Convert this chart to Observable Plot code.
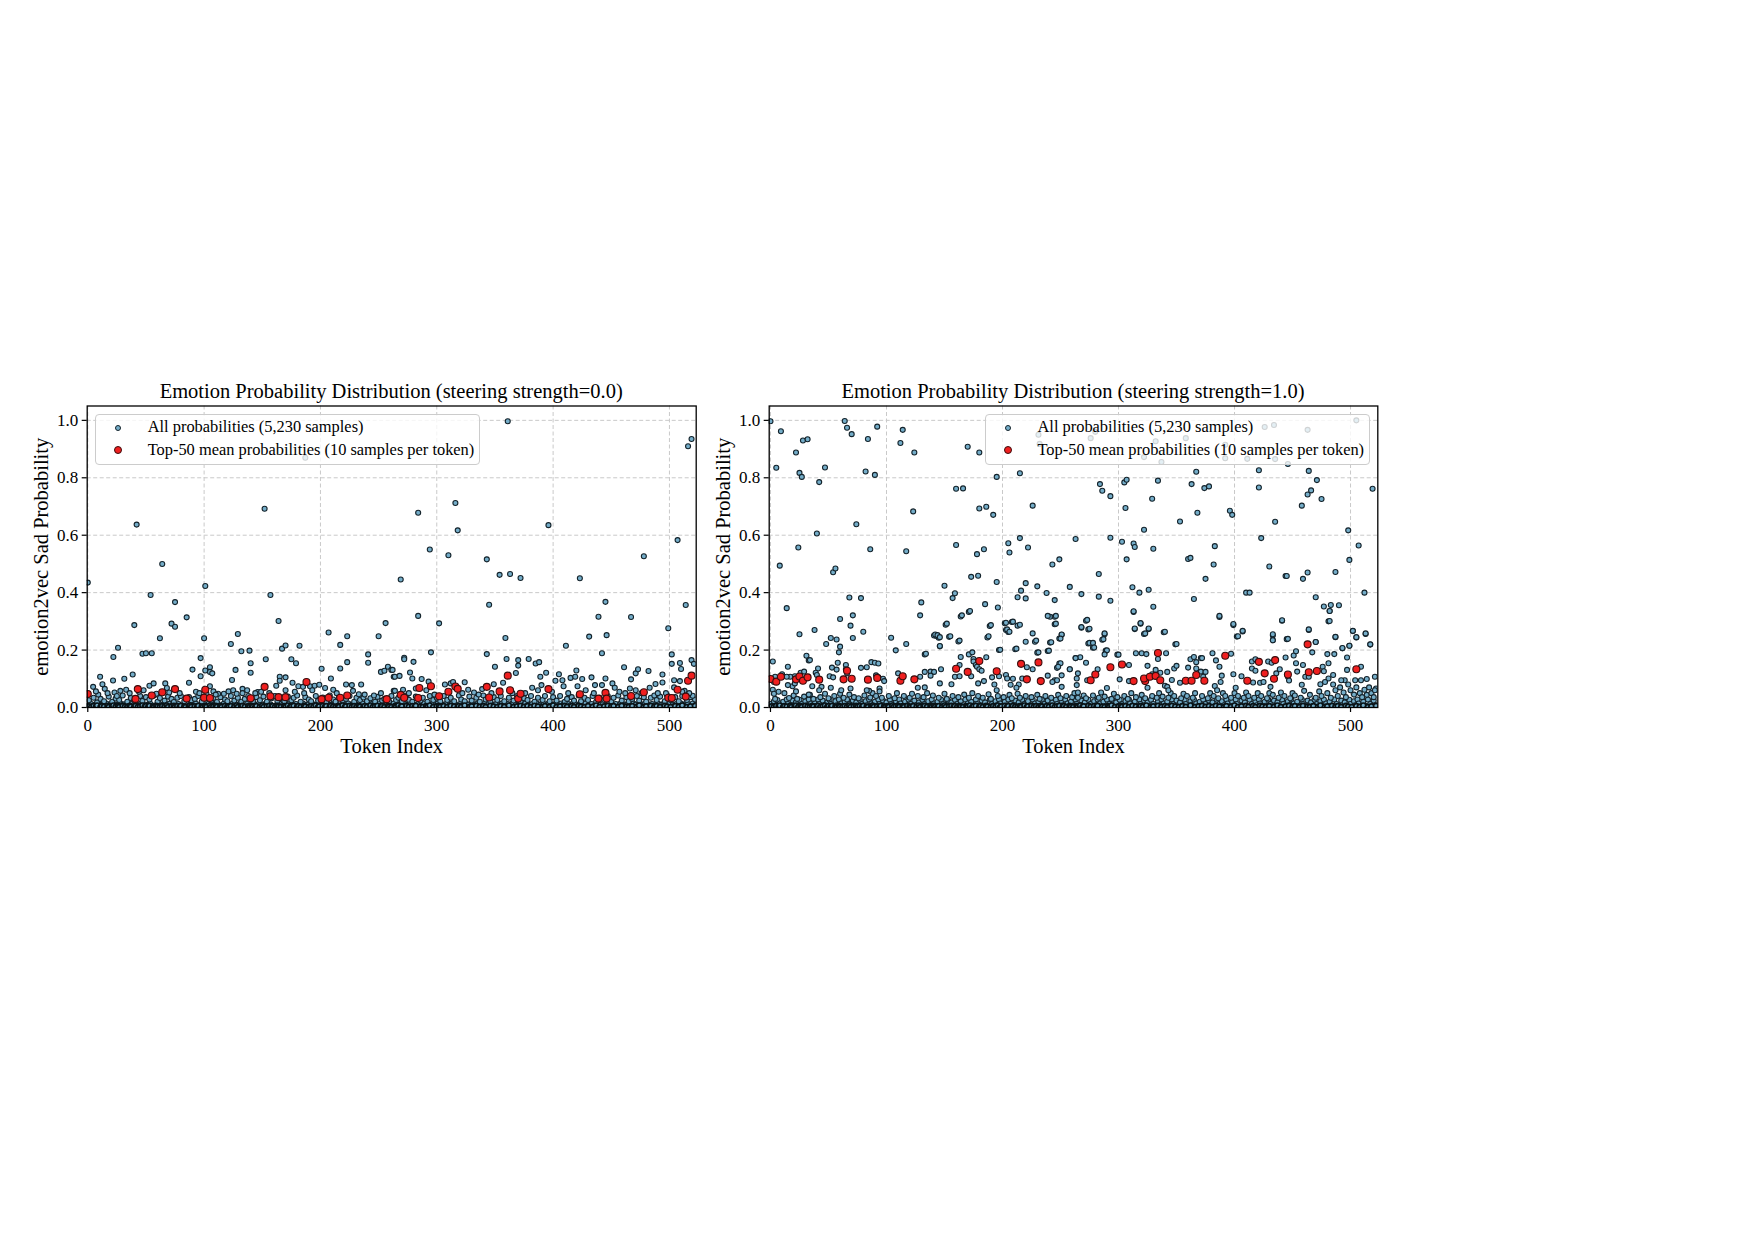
<!DOCTYPE html>
<html><head><meta charset="utf-8">
<script src="https://cdn.jsdelivr.net/npm/d3@7"></script>
<script src="https://cdn.jsdelivr.net/npm/@observablehq/plot@0.6"></script>
<style>
html,body{margin:0;padding:0;background:#fff;width:1755px;height:1240px;overflow:hidden;font-family:"Liberation Serif",serif;color:#000}
.p{position:absolute}
.t{position:absolute;font-size:20.5px;text-align:center;white-space:nowrap;line-height:24px}
.lg{position:absolute;background:rgba(255,255,255,.8);border:1.5px solid #ccc;border-radius:4px;box-sizing:border-box}
.lg div{position:absolute;white-space:nowrap;font-size:16.4px;line-height:20px}
.lg svg{position:absolute;overflow:visible}
</style></head><body>
<script>
const title0="Emotion Probability Distribution (steering strength=0.0)";
const title1="Emotion Probability Distribution (steering strength=1.0)";
const legendAll="All probabilities (5,230 samples)";
const legendTop="Top-50 mean probabilities (10 samples per token)";
const xLabel="Token Index", yLabel="emotion2vec Sad Probability";
const xTicks=[0,100,200,300,400,500], yTicks=[0,.2,.4,.6,.8,1];

// panel 0: flat token,probability lists
const topLeft=[0,.047,41,.03,43,.064,55,.042,64,.053,75,.064,85,.031,101,.062,100,.034,105,.033,140,.032,152,.072,157,.039,164,.036,170,.036,188,.089,201,.029,207,.034,217,.034,223,.042,257,.029,269,.044,272,.034,284,.033,285,.068,295,.074,302,.039,310,.055,316,.073,318,.065,343,.072,345,.035,354,.056,361,.111,363,.06,370,.031,372,.048,396,.064,423,.046,439,.031,445,.051,446,.031,467,.04,478,.053,499,.034,502,.033,507,.062,514,.038,516,.093,519,.111];
const upperLeft=[0,.435,42,.637,152,.692,284,.678,316,.712,318,.617,396,.635,361,.997,187,.87,519,.935,516,.91,507,.583,478,.527,294,.55,310,.53,343,.516,354,.462,363,.465,372,.451,423,.45,269,.446,345,.358,445,.368,514,.357,64,.5,54,.392,75,.367,101,.423,157,.392,40,.287,62,.241,72,.292,75,.281,85,.314,22,.176,26,.208,47,.187,50,.189,55,.189,100,.241,97,.172,90,.132,97,.109,87,.086,101,.129,105,.14,105,.124,107,.119,4.6,.072,10.6,.107,12.6,.081,14.6,.065,21.7,.094,31.4,.1,38.6,.115,53,.076,56.6,.084,66.6,.084,68,.068,123,.221,129,.256,132,.196,139,.198,140,.154,140,.121,153,.168,127,.131,124,.096,164,.301,167,.205,170,.216,182,.215,175,.168,179,.154,165,.107,165,.093,170,.105,176,.086,181,.074,185,.072,191,.074,195,.076,199,.079,201,.135,207,.261,223,.248,217,.218,209,.101,217,.136,223,.158,222,.08,227,.078,228,.058,235,.08,250,.248,256,.294,241,.185,241,.156,252,.124,255,.128,258,.142,261,.131,263,.107,263,.058,112,.048,117,.048,121,.056,125,.06,133,.065,133,.05,146,.054,149,.055,162,.076,170,.06,193,.06,204,.068,211,.062,233,.046,246,.042,108,.056,105,.074,102,.048,284,.319,302,.293,272,.173,272,.168,280,.159,295,.192,262,.131,264,.107,268,.11,277,.122,279,.101,287,.099,293,.09,282,.066,291,.06,264,.058,271,.062,307,.08,312,.084,314,.089,324,.088,327,.062,332,.052,339,.064,349,.081,357,.086,359,.242,343,.186,350,.142,360,.169,370,.165,370,.146,379,.169,385,.153,388,.158,368,.12,394,.121,389,.107,390,.078,382,.069,387,.06,411,.215,431,.247,439,.316,446,.252,467,.315,442,.189,499,.276,405,.116,402,.093,408,.095,415,.103,419,.107,420,.129,425,.099,433,.105,421,.074,409,.074,436,.078,442,.078,445,.101,451,.084,453,.069,461,.14,467,.098,471,.119,473,.133,482,.127,471,.06,466,.066,483,.069,488,.082,494,.115,494,.087,502,.185,502,.152,509,.155,510,.134,504,.095,509,.092,519,.165,521,.152,520,.041,504,.07,513,.058,23,.052,28,.058,33,.062,36,.05,9,.045,17,.05,7,.056,25,.04,44,.055,48,.06,59,.048,70,.052,79,.05,93,.055,96,.05,110,.045,128,.048,137,.06,144,.05,156,.05,178,.055,186,.05,214,.05,238,.045,252,.05,276,.05,298,.045,322,.05,336,.045,347,.05,365,.05,376,.05,399,.055,413,.05,428,.06,435,.05,457,.055,462,.05,476,.05,490,.05,497,.05,511,.055,517,.05];
const bandMidLeft=[1,.025,5,.034,8,.018,11,.03,14,.022,18,.038,21,.02,24,.031,27,.026,30,.042,34,.02,37,.033,40,.024,45,.04,47,.023,50,.036,53,.028,57,.042,60,.02,62,.033,66,.024,69,.038,72,.03,74,.019,77,.034,80,.04,83,.022,87,.036,89,.025,92,.03,95,.04,98,.021,102,.035,106,.024,108,.033,111,.019,114,.036,118,.028,120,.022,123,.04,126,.024,129,.034,132,.02,135,.03,138,.04,142,.022,145,.036,148,.025,151,.038,154,.02,158,.032,161,.04,163,.023,166,.032,169,.022,172,.038,175,.025,177,.034,180,.042,183,.02,187,.036,190,.028,192,.022,196,.04,198,.024,202,.035,205,.02,208,.042,211,.028,213,.02,216,.037,219,.024,222,.03,225,.04,229,.02,231,.034,234,.026,237,.035,240,.022,243,.032,247,.02,249,.037,253,.024,255,.03,259,.022,261,.04,265,.026,267,.034,270,.022,274,.042,276,.027,279,.02,282,.038,286,.024,288,.034,292,.02,294,.04,297,.026,300,.034,303,.022,306,.04,309,.026,312,.034,315,.022,319,.042,321,.028,324,.022,328,.038,330,.024,334,.034,337,.02,340,.042,342,.028,346,.022,349,.036,352,.026,355,.04,358,.022,362,.034,366,.024,369,.04,372,.022,375,.032,378,.026,381,.04,384,.02,387,.034,391,.026,393,.04,397,.022,400,.036,403,.024,406,.04,410,.02,412,.03,416,.036,418,.024,422,.042,424,.022,427,.034,430,.026,434,.04,437,.02,440,.034,444,.026,447,.04,450,.022,452,.034,456,.042,459,.024,463,.036,465,.022,468,.03,472,.04,474,.024,478,.036,480,.02,484,.034,487,.042,489,.026,492,.038,496,.022,498,.042,501,.026,505,.036,508,.022,511,.04,515,.026,518,.036,522,.028];
const bandLowLeft=[0,.006,3,.012,4,.002,6,.008,9,.014,10,.003,13,.01,15,.001,16,.014,19,.006,20,.012,23,.002,25,.009,28,.014,29,.004,31,.011,33,.001,35,.008,38,.013,39,.003,42,.01,44,.005,46,.014,48,.002,51,.009,54,.012,55,.003,58,.007,61,.014,63,.002,65,.01,67,.005,70,.013,71,.001,73,.009,76,.004,78,.012,81,.002,82,.008,85,.014,86,.003,90,.01,91,.005,93,.013,96,.002,97,.008,100,.012,103,.004,104,.014,107,.002,109,.009,112,.012,113,.004,116,.007,117,.014,119,.002,122,.009,124,.012,125,.004,127,.002,130,.01,131,.014,134,.003,136,.008,137,.012,140,.001,143,.01,146,.005,147,.013,149,.002,152,.009,153,.014,155,.004,157,.011,160,.002,162,.008,165,.013,167,.003,168,.01,171,.005,173,.014,176,.002,178,.009,179,.012,182,.004,184,.008,185,.014,188,.002,189,.01,191,.005,193,.013,195,.002,197,.009,200,.012,201,.003,203,.008,206,.014,207,.002,210,.01,212,.005,214,.013,217,.002,218,.008,220,.012,223,.004,224,.014,226,.002,228,.009,230,.012,232,.003,235,.007,236,.014,239,.002,241,.01,242,.005,244,.012,246,.002,248,.008,250,.014,251,.003,254,.01,256,.005,257,.012,260,.002,262,.008,263,.014,266,.002,268,.01,271,.005,272,.013,273,.002,275,.009,277,.014,278,.003,280,.01,283,.005,284,.012,285,.002,287,.008,289,.014,290,.003,293,.01,295,.005,296,.012,298,.002,299,.008,301,.014,304,.002,305,.01,307,.005,308,.012,310,.002,311,.008,313,.014,314,.003,316,.01,317,.005,320,.012,322,.002,323,.008,325,.014,326,.002,327,.01,329,.005,331,.012,332,.002,333,.008,335,.014,336,.003,338,.01,339,.005,341,.012,343,.002,344,.008,345,.014,347,.002,348,.01,350,.005,351,.012,353,.002,354,.008,356,.014,357,.003,359,.01,360,.005,361,.012,363,.002,364,.008,365,.014,367,.002,368,.01,370,.005,371,.012,373,.002,374,.008,376,.014,377,.003,379,.01,380,.005,382,.012,383,.002,385,.008,386,.014,388,.002,389,.01,390,.005,392,.012,394,.002,395,.008,396,.014,398,.003,399,.01,401,.005,402,.012,404,.002,405,.008,407,.014,408,.002,409,.01,411,.005,413,.012,414,.002,415,.008,417,.014,419,.003,420,.01,421,.005,423,.012,425,.002,426,.008,428,.014,429,.002,431,.01,432,.005,433,.012,435,.002,436,.008,438,.014,439,.003,441,.01,442,.005,443,.012,445,.002,446,.008,448,.014,449,.002,451,.01,453,.005,454,.012,455,.002,457,.008,458,.014,460,.003,461,.01,462,.005,464,.012,466,.002,467,.008,469,.014,470,.002,471,.01,473,.005,475,.012,476,.002,477,.008,479,.014,481,.003,482,.01,483,.005,485,.012,486,.002,488,.008,490,.014,491,.002,493,.01,494,.005,495,.012,497,.002,499,.008,500,.014,502,.003,503,.01,504,.005,506,.012,507,.002,509,.008,510,.014,512,.002,513,.01,514,.005,516,.012,517,.002,519,.008,520,.014,521,.003,523,.01];
// the near-zero floor that reads as a solid dark row in both panels
const floorBand=[1,.004,3,.001,5,.006,7,.002,8,.007,11,.001,12,.005,14,.003,17,.006,18,.001,21,.004,22,.007,24,.002,26,.005,27,.001,30,.006,32,.003,34,.001,36,.006,37,.003,40,.002,41,.006,43,.001,45,.004,47,.007,49,.002,50,.005,52,.001,53,.006,56,.003,57,.001,59,.006,60,.003,62,.001,64,.005,66,.002,68,.007,69,.001,72,.004,74,.006,75,.002,77,.005,79,.001,80,.006,83,.003,84,.001,87,.005,88,.007,89,.002,92,.004,94,.001,95,.006,98,.003,99,.001,101,.005,102,.002,105,.007,106,.001,108,.004,110,.006,111,.002,114,.005,115,.001,118,.006,120,.003,121,.001,123,.005,126,.002,128,.007,129,.001,132,.004,133,.006,135,.002,138,.005,139,.001,141,.006,142,.003,144,.001,145,.005,148,.002,150,.007,151,.001,154,.004,156,.006,158,.002,159,.005,161,.001,163,.006,164,.003,166,.001,169,.005,170,.002,172,.007,174,.001,175,.004,177,.006,180,.002,181,.005,183,.001,186,.006,187,.003,190,.001,192,.005,194,.002,196,.007,198,.001,199,.004,202,.006,204,.002,205,.005,208,.001,209,.006,211,.003,213,.001,215,.005,216,.002,219,.007,221,.001,222,.004,225,.006,227,.002,229,.005,231,.001,233,.006,234,.003,237,.001,238,.005,240,.002,243,.007,245,.001,247,.004,249,.006,252,.002,253,.005,255,.001,258,.006,259,.003,261,.001,264,.005,265,.002,267,.007,269,.001,270,.004,274,.006,276,.002,279,.005,281,.001,282,.006,286,.003,288,.001,291,.005,292,.002,294,.007,297,.001,300,.004,302,.006,303,.002,306,.005,309,.001,312,.006,315,.003,318,.001,319,.005,321,.002,324,.007,328,.001,330,.004,334,.006,337,.002,340,.005,342,.001,346,.006,349,.003,352,.001,355,.005,358,.002,362,.007,366,.001,369,.004,372,.006,375,.002,378,.005,381,.001,384,.006,387,.003,391,.001,393,.005,397,.002,400,.007,403,.001,406,.004,410,.006,412,.002,416,.005,418,.001,422,.006,424,.003,427,.001,430,.005,434,.002,437,.007,440,.001,444,.004,447,.006,450,.002,452,.005,456,.001,459,.006,463,.003,465,.001,468,.005,472,.002,474,.007,478,.001,480,.004,484,.006,487,.002,489,.005,492,.001,496,.006,498,.003,501,.001,505,.005,508,.002,511,.007,515,.001,518,.004,522,.006];

// panel 1
const topRight=[0,.099,5,.09,9,.107,22,.098,25,.108,28,.093,32,.105,42,.097,63,.098,66,.128,70,.1,84,.097,92,.103,112,.093,114,.109,124,.098,160,.135,170,.124,180,.162,195,.126,216,.152,221,.098,231,.157,233,.092,276,.095,280,.115,293,.14,303,.15,313,.092,323,.092,322,.101,327,.107,332,.11,336,.095,334,.19,358,.093,363,.093,367,.113,374,.093,392,.18,411,.093,421,.159,426,.119,434,.1,435,.165,446,.115,463,.22,464,.123,471,.127,505,.133];
const upperRight=[0,.997,9,.962,5,.835,8,.494,14,.346,22,.888,24,.557,25,.817,27,.803,28,.93,32,.934,42,.785,47,.836,40,.606,54,.471,56,.484,38,.27,25,.255,48,.221,52,.242,57,.237,60,.308,60,.212,59,.192,64,.998,66,.974,70,.952,74,.638,68,.383,78,.381,69,.285,71,.321,71,.242,80,.264,82,.822,84,.935,86,.551,90,.81,92,.978,104,.243,108,.199,117,.221,112,.921,114,.967,117,.544,124,.888,123,.683,130,.366,129,.321,133,.185,141,.251,143,.249,145,.243,146,.213,150,.424,151,.288,154,.246,157,.381,159,.398,162,.23,164,.317,160,.762,166,.763,160,.566,170,.908,171,.333,180,.888,178,.534,184,.551,173,.455,179,.459,180,.693,186,.699,192,.671,185,.36,189,.284,187,.244,195,.803,195,.437,196,.348,197,.2,205,.572,206,.54,202,.293,208,.298,203,.27,205,.263,213,.384,215,.59,215,.816,213,.285,211,.203,222,.557,226,.703,243,.498,249,.516,216,.407,220,.433,220,.38,230,.422,238,.399,245,.374,258,.42,268,.395,263,.587,241,.316,245,.316,245,.29,241,.226,228,.229,230,.191,239,.197,226,.258,247,.138,249,.153,251,.253,249,.24,272,.302,268,.278,274,.272,274,.223,277,.222,278,.208,283,.465,284,.778,286,.755,293,.736,293,.591,283,.386,293,.372,288,.255,286,.236,289,.198,299,.184,303,.577,305,.784,307,.793,306,.695,313,.571,314,.559,307,.516,312,.419,318,.4,326,.41,322,.619,329,.727,334,.79,330,.553,330,.351,313,.333,319,.292,326,.273,314,.273,322,.256,339,.262,349,.22,353,.648,360,.517,362,.521,363,.778,367,.821,368,.678,374,.764,378,.77,365,.378,375,.448,382,.498,383,.562,387,.315,396,.685,398,.671,399,.287,402,.247,407,.265,410,.4,413,.4,421,.826,421,.766,423,.59,430,.491,435,.647,444,.458,445,.458,459,.448,463,.47,441,.302,433,.251,433,.234,445,.238,464,.824,471,.792,466,.756,463,.742,458,.703,475,.726,470,.384,477,.352,483,.357,490,.356,482,.336,481,.3,487,.472,487,.245,464,.27,470,.228,493,.206,499,.215,502,.266,505,.244,498,.617,499,.514,507,.564,512,.4,513,.256,517,.219,519,.762,231,.95,280,.96,276,.938,322,.872,337,.855,332,.927,358,.938,392,.915,392,.868,411,.866,426,.977,434,.984,435,.865,446,.848,463,.967,505,1,232,.918,2,.16,2,.062,3,.048,15,.142,31,.18,33,.164,34,.165,58,.156,65,.148,53,.139,57,.132,41,.136,39,.121,40,.113,51,.109,54,.105,65,.133,66,.119,78,.138,83,.14,87,.158,90,.156,93,.153,91,.112,93,.105,97,.1,98,.092,94,.066,94,.056,85,.058,83,.06,69,.066,61,.06,52,.069,44,.072,42,.06,36,.074,33,.045,28,.095,26,.121,29,.125,26,.105,21,.109,17,.107,14,.107,10,.116,4,.107,19,.074,21,.084,15,.078,22,.056,3,.089,134,.187,142,.254,144,.252,146,.245,146,.214,152,.292,155,.248,163,.233,165,.321,172,.336,164,.176,171,.185,174,.192,175,.169,175,.16,177,.148,178,.142,180,.133,182,.128,186,.175,188,.248,190,.287,198,.201,203,.295,209,.299,215,.288,204,.272,206,.264,212,.205,220,.229,229,.233,231,.192,239,.319,246,.319,246,.292,242,.227,240,.198,251,.254,250,.24,250,.154,248,.142,263,.172,110,.119,133,.124,138,.125,141,.124,147,.133,138,.111,129,.107,127,.069,133,.07,146,.084,156,.081,159,.107,163,.109,163,.148,173,.109,184,.092,179,.084,191,.105,193,.08,197,.109,195,.06,203,.113,204,.101,209,.1,207,.079,217,.101,214,.08,212,.069,226,.133,221,.14,239,.111,245,.095,247,.095,251,.112,251,.072,243,.089,258,.133,264,.101,273,.305,268,.28,275,.274,288,.258,287,.238,275,.225,278,.225,279,.209,290,.199,288,.185,267,.175,263,.172,272,.156,258,.133,265,.119,282,.133,264,.078,265,.052,273,.095,290,.068,300,.184,301,.098,313,.335,314,.275,319,.294,326,.275,323,.258,340,.264,350,.221,315,.189,320,.189,324,.186,334,.169,341,.189,325,.145,332,.131,336,.121,342,.124,329,.116,346,.096,309,.148,309,.092,325,.069,340,.076,342,.072,343,.06,353,.086,360,.139,348,.136,350,.145,362,.168,365,.176,371,.172,372,.172,367,.158,367,.136,371,.125,375,.124,373,.107,381,.189,384,.164,387,.142,389,.111,388,.089,383,.075,385,.06,387,.319,399,.291,403,.248,407,.267,397,.187,399,.116,401,.069,406,.109,416,.087,415,.16,418,.168,415,.136,418,.128,422,.086,425,.089,431,.072,429,.16,432,.156,436,.119,439,.133,433,.255,433,.234,446,.239,441,.304,444,.174,446,.107,447,.094,451,.181,453,.196,453,.154,459,.148,454,.125,458,.079,461,.107,464,.107,464,.272,470,.228,467,.192,476,.142,486,.186,480,.186,481,.154,477,.126,474,.081,485,.113,481,.101,478,.089,482,.301,482,.336,487,.246,493,.207,499,.215,502,.267,505,.245,513,.258,517,.22,497,.174,497,.131,509,.142,495,.095,492,.095,504,.095,509,.095,514,.099,521,.107,521,.06];
const bandMidRight=[4,.03,7,.055,12,.05,16,.033,20,.042,23,.03,29,.038,34,.044,37,.03,43,.036,47,.048,50,.032,55,.04,60,.048,63,.034,68,.045,72,.036,76,.032,81,.042,86,.035,88,.05,91,.04,96,.034,102,.04,107,.032,109,.05,115,.04,120,.034,122,.048,127,.04,132,.036,135,.05,140,.042,145,.034,150,.048,152,.03,157,.04,162,.036,167,.045,171,.034,174,.05,179,.04,183,.034,188,.046,190,.03,196,.04,201,.036,206,.044,208,.032,213,.048,215,.034,220,.04,225,.036,230,.044,232,.03,237,.04,242,.034,248,.044,250,.032,255,.04,260,.036,262,.05,265,.034,270,.042,272,.032,278,.042,283,.034,285,.052,288,.038,294,.03,296,.048,299,.036,305,.04,308,.03,311,.05,315,.036,320,.044,323,.032,329,.04,333,.034,335,.05,338,.038,343,.034,345,.05,348,.04,354,.032,356,.048,359,.04,364,.034,366,.05,372,.04,377,.032,379,.05,382,.04,386,.032,390,.05,392,.04,397,.034,400,.05,403,.04,408,.034,410,.052,412,.04,417,.034,420,.05,423,.04,428,.032,430,.05,433,.044,438,.034,440,.052,443,.04,448,.032,450,.05,452,.042,457,.034,460,.058,465,.044,470,.034,473,.056,475,.04,480,.05,483,.034,485,.08,487,.06,489,.04,491,.07,494,.052,496,.036,498,.08,500,.06,503,.045,505,.07,508,.05,510,.036,512,.062,514,.044,516,.07,518,.05,520,.036,522,.066];
const bandLowRight=[0,.012,2,.004,3,.022,5,.008,6,.026,8,.014,9,.002,11,.02,13,.006,14,.028,15,.012,17,.002,19,.024,20,.008,22,.018,24,.004,25,.027,27,.012,28,.002,30,.022,32,.008,33,.028,35,.014,36,.003,38,.02,40,.006,41,.028,42,.012,44,.002,45,.024,47,.008,49,.018,50,.004,51,.027,52,.012,54,.002,56,.022,57,.008,59,.028,61,.014,62,.003,64,.02,65,.006,66,.028,68,.012,70,.002,71,.024,73,.008,74,.018,75,.004,77,.027,79,.012,80,.002,82,.022,83,.008,85,.028,87,.014,89,.003,90,.02,92,.006,93,.028,94,.012,96,.002,97,.024,98,.008,100,.018,101,.004,103,.027,104,.012,106,.002,108,.022,110,.008,111,.028,112,.014,114,.003,116,.02,117,.006,119,.028,121,.012,123,.002,124,.024,126,.008,128,.018,129,.004,131,.027,133,.012,134,.002,136,.022,138,.008,139,.028,141,.014,142,.003,144,.02,146,.006,147,.028,149,.012,151,.002,153,.024,154,.008,156,.018,158,.004,159,.027,161,.012,163,.002,164,.022,166,.008,168,.028,170,.014,172,.003,173,.02,175,.006,177,.028,178,.012,180,.002,182,.024,184,.008,185,.018,187,.004,189,.027,191,.012,192,.002,194,.022,195,.008,197,.028,198,.014,200,.003,202,.02,203,.006,205,.028,207,.012,209,.002,211,.024,212,.008,214,.018,216,.004,217,.027,219,.012,221,.002,222,.022,224,.008,226,.028,228,.014,229,.003,231,.02,233,.006,234,.028,236,.012,238,.002,239,.024,241,.008,243,.018,244,.004,246,.027,247,.012,249,.002,251,.022,252,.008,254,.028,256,.014,258,.003,259,.02,261,.006,263,.028,264,.012,266,.002,268,.024,269,.008,271,.018,273,.004,274,.027,276,.012,277,.002,279,.022,281,.008,282,.028,284,.014,286,.003,287,.02,289,.006,290,.028,292,.012,293,.002,295,.024,297,.008,298,.018,300,.004,301,.027,303,.012,304,.002,306,.022,307,.008,309,.028,310,.014,312,.003,314,.02,316,.006,318,.028,319,.012,321,.002,322,.024,324,.008,325,.018,327,.004,328,.027,330,.012,332,.002,334,.022,336,.008,337,.028,339,.014,341,.003,342,.02,344,.006,346,.028,347,.012,349,.002,350,.024,352,.008,353,.018,355,.004,357,.027,358,.012,360,.002,362,.022,363,.008,365,.028,367,.014,368,.003,370,.02,371,.006,373,.028,375,.012,376,.002,378,.024,380,.008,381,.018,383,.004,385,.027,387,.012,388,.002,389,.022,391,.008,393,.028,394,.014,396,.003,398,.02,399,.006,401,.028,402,.012,404,.002,406,.024,407,.008,409,.018,411,.004,413,.027,415,.012,416,.002,418,.022,419,.008,421,.028,422,.014,424,.003,426,.02,427,.006,429,.028,431,.012,432,.002,434,.024,436,.008,437,.018,439,.004,441,.027,442,.012,444,.002,446,.022,447,.008,449,.028,451,.014,453,.003,454,.02,456,.006,458,.028,459,.012,461,.002,463,.024,464,.008,466,.018,467,.004,469,.027,471,.012,472,.002,474,.022,476,.008,477,.028,479,.014,481,.003,482,.02,484,.006,486,.028,488,.012,490,.002,492,.024,493,.008,495,.018,497,.004,499,.027,500,.012,501,.002,503,.022,504,.008,506,.028,507,.014,509,.003,511,.02,513,.006,515,.028,517,.012,519,.002,520,.024,522,.008];

const rows=a=>{const o=[];for(let i=0;i+1<a.length;i+=2)o.push({t:a[i],p:a[i+1]});return o;};
const ALL_R=2.5, TOP_R=3.5, ALL_FILL="#74adc9", ALL_STROKE="#14232b", TOP_FILL="#f01f1f", TOP_STROKE="#3a0d0d";

function panel(box,all,floor,top){
  return Plot.plot({
    width:box.w,height:397,
    marginLeft:box.ml,marginRight:box.mr,marginTop:35.5,marginBottom:60,
    style:{fontFamily:"Liberation Serif",background:"transparent",color:"#000",overflow:"visible"},
    x:{domain:box.dom,label:null},
    y:{domain:[0,1.05],label:null},
    marks:[
      Plot.gridX(xTicks,{stroke:"#c9c9c9",strokeOpacity:1,strokeDasharray:"4,2.5",strokeWidth:1}),
      Plot.gridY(yTicks,{stroke:"#c9c9c9",strokeOpacity:1,strokeDasharray:"4,2.5",strokeWidth:1}),
      Plot.dot(all,{x:"t",y:"p",r:ALL_R,fill:ALL_FILL,stroke:ALL_STROKE,strokeWidth:1.1,clip:true}),
      Plot.dot(floor,{x:"t",y:"p",r:ALL_R,fill:ALL_FILL,stroke:"#0a1418",strokeWidth:1.7,clip:true}),
      Plot.dot(top,{x:"t",y:"p",r:TOP_R,fill:TOP_FILL,stroke:TOP_STROKE,strokeWidth:1.1,clip:true}),
      Plot.frame({stroke:"#000",strokeWidth:1.3}),
      Plot.axisX({ticks:xTicks,tickSize:5,tickPadding:6,fontSize:17,stroke:"#000",strokeWidth:1.2,label:null,tickFormat:d=>String(d)}),
      Plot.axisY({ticks:yTicks,tickSize:5,tickPadding:4,fontSize:17,stroke:"#000",strokeWidth:1.2,label:null,tickFormat:d=>d.toFixed(1)}),
      Plot.text([xLabel],{frameAnchor:"bottom",text:d=>d,dy:39,lineAnchor:"middle",fontSize:20.5,fill:"#000"}),
      Plot.text([yLabel],{frameAnchor:"left",text:d=>d,rotate:-90,dx:-45.7,lineAnchor:"middle",textAnchor:"middle",fontSize:20.5,fill:"#000"})
    ]
  });
}
function add(left,box,all,floor,top,title,lg){
  const host=document.createElement("div");host.className="p";host.style.left=left+"px";host.style.top="370px";
  host.appendChild(panel(box,all,floor,top));document.body.appendChild(host);
  const t=document.createElement("div");t.className="t";t.textContent=title;
  t.style.left=(left+box.ml)+"px";t.style.width=(box.w-box.ml-box.mr)+"px";t.style.top="379px";document.body.appendChild(t);
  const l=document.createElement("div");l.className="lg";
  Object.assign(l.style,{left:lg.x+"px",top:"413.5px",width:lg.w+"px",height:"51px"});
  l.innerHTML=`<div style="left:${lg.tx}px;top:2px;">${legendAll}</div>
    <div style="left:${lg.tx}px;top:25.5px;">${legendTop}</div>
    <svg style="left:${lg.mx-5}px;top:8px" width="10" height="10" viewBox="-5 -5 10 10"><circle r="${ALL_R}" fill="${ALL_FILL}" stroke="${ALL_STROKE}"/></svg>
    <svg style="left:${lg.mx-5}px;top:30px" width="10" height="10" viewBox="-5 -5 10 10"><circle r="${TOP_R}" fill="${TOP_FILL}" stroke="${TOP_STROKE}"/></svg>`;
  document.body.appendChild(l);
}
add(0,{w:700,ml:86.7,mr:4.3,dom:[-.5,523]},
  rows([...bandLowLeft,...bandMidLeft,...upperLeft]),rows(floorBand),rows(topLeft),title0,{x:94.7,w:385,tx:52,mx:22});
add(700,{w:720,ml:68.7,mr:42.7,dom:[-1.1,523.5]},
  rows([...bandLowRight,...bandMidRight,...upperRight]),rows(floorBand),rows(topRight),title1,{x:984.5,w:385,tx:52,mx:22});
</script>
</body></html>
